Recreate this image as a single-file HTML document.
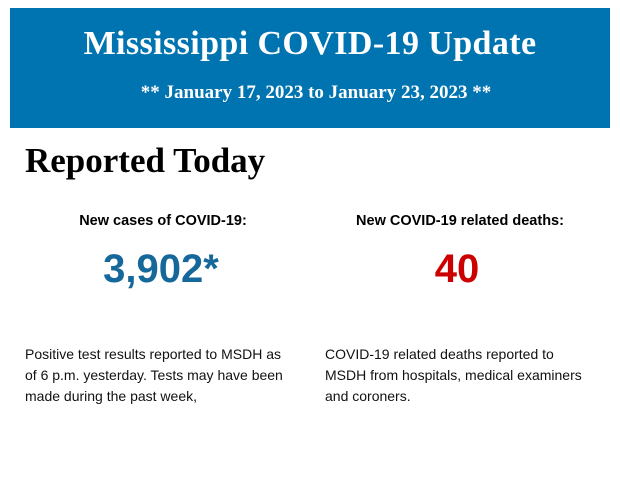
<!DOCTYPE html>
<html><head><style>
body{margin:0;width:620px;height:483px;background:#fff;position:relative;font-family:"Liberation Sans",sans-serif;overflow:hidden}
.ban{position:absolute;left:10px;top:8px;width:600px;height:120px;background:#0073b1;color:#fff;font-family:"Liberation Serif",serif;font-weight:bold;text-align:center}
.t1{position:absolute;top:17px;left:0;right:0;font-size:34px;letter-spacing:0.4px}
.t2{position:absolute;top:74px;left:12px;right:0;font-size:19px;letter-spacing:0}
.h{position:absolute;left:25px;top:141px;font-family:"Liberation Serif",serif;font-weight:bold;font-size:35px}
.lab{position:absolute;top:213px;font-weight:bold;font-size:14.5px;text-align:center;width:300px}
.num{position:absolute;top:247px;font-weight:bold;font-size:40px;text-align:center;width:300px}
.p{position:absolute;top:344px;font-size:14px;line-height:21px;width:266px;color:#111}
</style></head><body>
<div class="ban"><div class="t1">Mississippi COVID-19 Update</div><div class="t2">** January 17, 2023 to January 23, 2023 **</div></div>
<div class="h">Reported Today</div>
<div class="lab" style="left:13px">New cases of COVID-19:</div>
<div class="lab" style="left:310px">New COVID-19 related deaths:</div>
<div class="num" style="left:11px;color:#17689a">3,902*</div>
<div class="num" style="left:307px;color:#cc0000">40</div>
<div class="p" style="left:25px">Positive test results reported to MSDH as of 6 p.m. yesterday. Tests may have been made during the past week,</div>
<div class="p" style="left:325px;width:262px">COVID-19 related deaths reported to MSDH from hospitals, medical examiners and coroners.</div>
</body></html>
